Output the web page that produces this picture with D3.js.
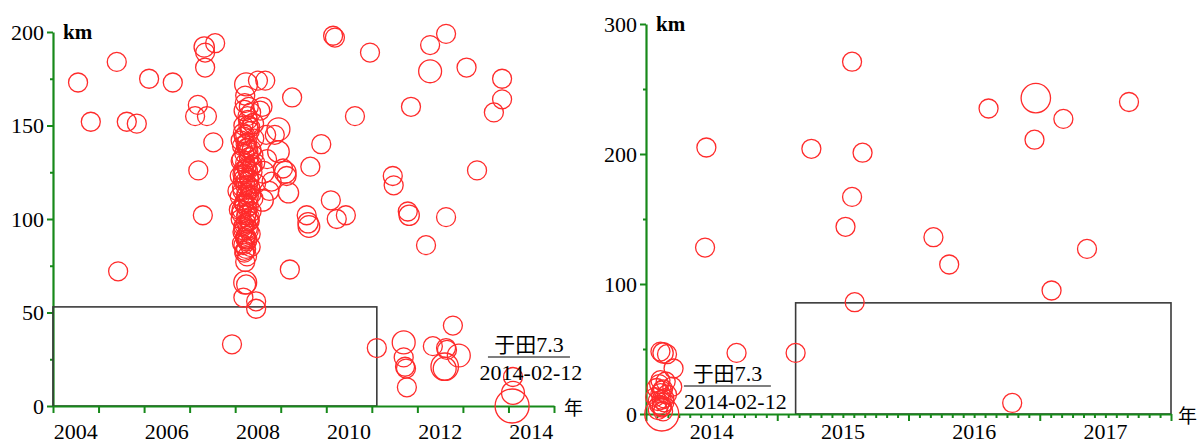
<!DOCTYPE html>
<html><head><meta charset="utf-8">
<script src="https://cdn.jsdelivr.net/npm/d3@7"></script>
<style>body{margin:0;background:#fff}svg{display:block}
.serif{font-family:"Liberation Serif","Tinos","DejaVu Serif",serif}
.cjk{font-family:"Noto Sans CJK SC","Noto Sans CJK JP",sans-serif}
</style>
</head><body><svg id="c" width="1199" height="443"></svg>
<script>
// ---------- Left panel data (2004-2014) ----------
const leftYears = [
 2004.55,2004.83,2005.40,2005.43,2005.62,2005.84,2006.11,2006.63,2007.12,2007.18,
 2007.38,2007.32,2007.56,2007.34,2007.34,2007.52,2007.19,2007.29,2007.93,2009.20,
 2009.25,2009.57,2009.60,2009.62,2009.65,2009.89,2010.10,2010.15,2010.19,2010.23,
 2010.43,2010.63,2010.96,2011.11,2011.46,2011.48,2011.70,2011.70,2011.73,2011.75,
 2011.77,2011.79,2011.82,2011.86,2012.19,2012.28,2012.28,2012.34,2012.60,2012.60,
 2012.63,2012.63,2012.63,2012.65,2012.78,2012.91,2013.08,2013.31,2013.68,2013.86,
 2013.86,2014.10,2014.10,2014.08,
 2008.95,2008.87,2008.95,2009.10,2009.05,2009.13,2009.17,2008.80,2008.70,2008.60,
 2008.55,2008.60,2008.50,2008.66,2008.75,2008.62,2008.68,
 2008.24,2008.22,2008.30,2008.20,2008.35,2008.28,2008.40,2008.18,2008.32,2008.22,
 2008.42,2008.26,2008.15,2008.36,2008.20,2008.30,2008.12,2008.44,2008.25,2008.18,
 2008.38,2008.10,2008.30,2008.22,2008.46,2008.15,2008.34,2008.26,2008.10,2008.40,
 2008.20,2008.30,2008.14,2008.36,2008.24,2008.12,2008.32,2008.20,2008.28,2008.16,
 2008.34,2008.22,2008.26,2008.18,2008.24,2008.20,2008.26,2008.22,2008.22,2008.24,
 2008.18,2008.46,2008.46,2008.28,2008.16,2008.36,2008.12,2008.28,2008.40,2008.05,
 2008.08,2008.30,
 2008.21,2008.27,2008.33,2008.17,2008.23,2008.29,2008.14,2008.38,2008.25,2008.19,
 2008.31,2008.22,2008.16,2008.35,2008.28,2008.20,2008.26,2008.13,2008.32,2008.24,
 2008.18,2008.30,2008.23,2008.27,2008.15,2008.34,2008.21,2008.29,2008.19,2008.25,
 2008.22,2008.28,2008.17,2008.33,2008.24,2008.20,2008.26,2008.30,2008.18,2008.23
];
const leftDepths = [
 173,152,184,72,152,151,175,173,155,161,
 155,192,194,189,181,141,126,102,33,73,
 165,102,98,96,128,140,110,198,197,100,
 102,155,189,31,123,118,34,26,21,20,
 10,104,102,160,86,193,179,32,21,20,
 101,199,31,30,43,27,181,126,157,175,
 164,15.5,7,0,
 148,145,136,125,127,123,114,120,132,110,
 158,160,174,174,115,125,145,
 172,166,160,158,157,153,151,150,147,145,
 143,141,139,137,135,133,131,130,128,126,
 125,123,122,120,119,117,116,114,112,111,
 109,107,105,104,102,100,99,97,95,93,
 92,90,88,86,84,82,80,77,66,65,
 58,56,52,118,124,128,142,138,134,115,
 105,112,
 162,155,149,146,140,136,132,129,127,124,
 121,118,115,113,110,108,106,103,101,98,
 96,94,91,89,87,85,83,150,144,138,
 130,126,121,117,113,108,103,99,94,89
];
const leftMags = [
 5.0,5.0,5.0,5.0,5.0,5.0,5.0,5.0,5.0,5.0,
 5.0,5.2,5.0,5.0,5.0,5.0,5.0,5.0,5.0,5.0,
 5.0,5.0,5.2,5.4,5.0,5.0,5.0,5.0,5.0,5.0,
 5.0,5.0,5.0,5.0,5.0,5.0,5.6,5.0,5.0,5.0,
 5.0,5.0,5.2,5.0,5.0,5.0,5.6,5.0,6.3,5.6,
 5.0,5.0,5.0,5.0,5.0,5.6,5.0,5.0,5.0,5.0,
 5.0,5.0,5.6,7.3,
 5.6,5.0,5.4,5.4,5.0,5.0,5.2,5.0,5.0,5.4,
 5.0,5.0,5.0,5.0,5.0,5.4,5.0,
 5.6,5.0,5.0,5.2,5.0,5.0,5.2,5.0,5.0,5.0,
 5.0,5.0,5.0,5.0,5.0,5.0,5.0,5.0,5.0,5.0,
 5.0,5.0,5.0,5.0,5.0,5.0,5.0,5.0,5.0,5.0,
 5.0,5.0,5.0,5.0,5.0,5.0,5.0,5.0,5.0,5.0,
 5.0,5.0,5.0,5.0,5.0,5.0,5.0,5.0,5.6,5.0,
 5.0,5.0,5.0,5.0,5.0,5.0,5.0,5.0,5.0,5.0,
 5.0,5.0,
 5.0,5.0,5.0,5.0,5.0,5.0,5.0,5.0,5.0,5.0,
 5.0,5.0,5.0,5.0,5.0,5.0,5.0,5.0,5.0,5.0,
 5.0,5.0,5.0,5.0,5.0,5.0,5.0,5.0,5.0,5.0,
 5.0,5.0,5.0,5.0,5.0,5.0,5.0,5.0,5.0,5.0
];
// ---------- Right panel data (2014-2017) ----------
const rightYears = [
 2015.57,2014.46,2015.26,2015.65,2015.57,2015.52,2014.45,2015.59,2014.69,2015.14,
 2016.97,2016.61,2017.18,2016.96,2017.68,2016.19,2016.31,2017.36,2017.09,2016.79,
 2014.11,2014.13,2014.16,2014.21,2014.11,2014.15,2014.20,2014.08,2014.12,2014.16,
 2014.07,2014.12,2014.14,2014.10,2014.12,2014.09,2014.13,2014.12,
 2014.10,2014.13,2014.11,2014.14,2014.09,2014.12
];
const rightDepths = [
 271,205,204,201,167,144,128,86,47,47,
 243,235,227,211,240,136,115,127,95,8.5,
 48,47,46,35,26,25,21,20,18,15,
 13,11,9,7,5,3,2,0,
 23,19,16,12,10,6
];
const rightMags = [
 5.0,5.0,5.0,5.0,5.0,5.0,5.0,5.0,5.0,5.0,
 6.6,5.0,5.0,5.0,5.0,5.0,5.0,5.0,5.0,5.0,
 5.0,5.2,5.0,5.0,5.0,5.0,5.0,5.0,5.0,5.0,
 5.0,5.0,5.0,5.0,5.0,5.0,5.0,7.3,
 5.0,5.0,5.0,5.0,5.0,5.0
];
// ---------- Ticks / labels ----------
const leftYTicks = [0,50,100,150,200];
const leftYMinor = [25,75,125,175];
const leftXTicks = [2004,2005,2006,2007,2008,2009,2010,2011,2012,2013,2014,2015];
const leftXLabels = [2004,2006,2008,2010,2012,2014];
const rightYTicks = [0,100,200,300];
const rightYMinor = [50,150,250];
const rightXTicks = [2014,2015,2016,2017,2018];
const rightXLabels = [2014,2015,2016,2017];
const leftBox = [2004, 2011.11, 53];
const rightBox = [2015.14, 2018, 85.5];
const quakeName = "于田7.3";
const quakeDate = "2014-02-12";

const svg = d3.select("#c");
const GREEN = "#17891a", RED = "#ff2b2b";
const rScale = d3.scaleLinear().domain([5, 7.3]).range([9.5, 17]);

function panel(o) {
  const x = d3.scaleLinear().domain(o.xDom).range(o.xRange);
  const y = d3.scaleLinear().domain(o.yDom).range(o.yRange);
  const g = svg.append("g");
  g.append("g").attr("transform", `translate(${o.xRange[0]},0)`)
    .call(d3.axisLeft(y).tickValues(o.yMinor).tickSize(3).tickFormat("").tickSizeOuter(0))
    .call(s => s.select(".domain").remove());
  const ya = g.append("g").attr("transform", `translate(${o.xRange[0]},0)`)
    .call(d3.axisLeft(y).tickValues(o.yTicks).tickSize(6).tickPadding(3).tickSizeOuter(0));
  g.append("rect").attr("x", x(o.box[0])).attr("y", y(o.box[2]))
    .attr("width", x(o.box[1]) - x(o.box[0])).attr("height", y(0) - y(o.box[2]))
    .attr("fill", "none").attr("stroke", "#3a3a3a").attr("stroke-width", 1.6);
  if (o.xMinor) {
    g.append("g").attr("transform", `translate(0,${o.yRange[0]})`)
      .call(d3.axisBottom(x).tickValues(o.xMinor).tickSize(4).tickFormat("").tickSizeOuter(0))
      .call(s => s.select(".domain").remove());
  }
  g.append("g").attr("transform", `translate(0,${o.yRange[0]})`)
    .call(d3.axisBottom(x).tickValues(o.xTicks).tickSize(7).tickFormat("").tickSizeOuter(0));
  g.selectAll(".domain").attr("stroke", GREEN).attr("stroke-width", 2.2);
  g.selectAll(".tick line").attr("stroke", GREEN).attr("stroke-width", 2);
  ya.attr("font-family", null).attr("font-size", null);
  ya.selectAll("text").attr("class", "serif").style("font-size", "22px").attr("fill", "#000");
  g.selectAll("text.xl").data(o.xLabels).join("text")
    .attr("x", d => x(d + 0.5)).attr("y", o.xLabelY).attr("text-anchor", "middle")
    .attr("class", "xl serif").style("font-size", "22px").text(d => d);
  g.append("text").attr("x", o.xRange[0] + 10).attr("y", y(o.yDom[1]) + 1)
    .attr("dy", "0.3em").attr("class", "serif").style("font-weight", "bold")
    .style("font-size", "21px").text("km");
  g.append("text").attr("x", o.xRange[1] + o.nianDx).attr("y", o.yRange[0] + 2)
    .attr("dy", "0.35em").attr("class", "cjk").style("font-size", "19px").text("年");
  const data = o.years.map((d, i) => ({yr: d, dep: o.depths[i], m: o.mags[i]}));
  g.append("g").selectAll("circle").data(data).join("circle")
    .attr("cx", d => x(d.yr)).attr("cy", d => y(d.dep)).attr("r", d => rScale(d.m))
    .attr("fill", "none").attr("stroke", RED).attr("stroke-width", 1.3);
  const ax = x(o.ann[0]), ay = y(o.ann[1]);
  const t1 = g.append("text").attr("x", ax).attr("y", ay - 5).attr("text-anchor", "middle")
    .style("font-size", "21px");
  t1.append("tspan").attr("class", "cjk").text(quakeName.slice(0, 2));
  t1.append("tspan").attr("class", "serif").style("font-size", "22px").text(quakeName.slice(2));
  g.append("line").attr("x1", ax - o.annW / 2).attr("x2", ax + o.annW / 2)
    .attr("y1", ay).attr("y2", ay).attr("stroke", "#555").attr("stroke-width", 1.5);
  g.append("text").attr("x", ax + o.annDx).attr("y", ay + 23).attr("text-anchor", "middle")
    .attr("class", "serif").style("font-size", "22px").text(quakeDate);
}

panel({
  xDom: [2004, 2015], xRange: [53, 554], yDom: [0, 200], yRange: [406, 32],
  yTicks: leftYTicks, yMinor: leftYMinor, xTicks: leftXTicks, xLabels: leftXLabels,
  xLabelY: 439, box: leftBox, years: leftYears, depths: leftDepths, mags: leftMags,
  ann: [2014.45, 26.2], annW: 82, annDx: 2, nianDx: 10
});
const months = [];
for (let yv = 2014; yv < 2018; yv++) for (let m = 1; m < 12; m++) months.push(yv + m / 12);
panel({
  xDom: [2014, 2018], xRange: [646, 1171], yDom: [0, 300], yRange: [414, 24],
  yTicks: rightYTicks, yMinor: rightYMinor, xTicks: rightXTicks, xLabels: rightXLabels,
  xMinor: months,
  xLabelY: 439, box: rightBox, years: rightYears, depths: rightDepths, mags: rightMags,
  ann: [2014.62, 21.5], annW: 87, annDx: 8, nianDx: 7
});
</script></body></html>
